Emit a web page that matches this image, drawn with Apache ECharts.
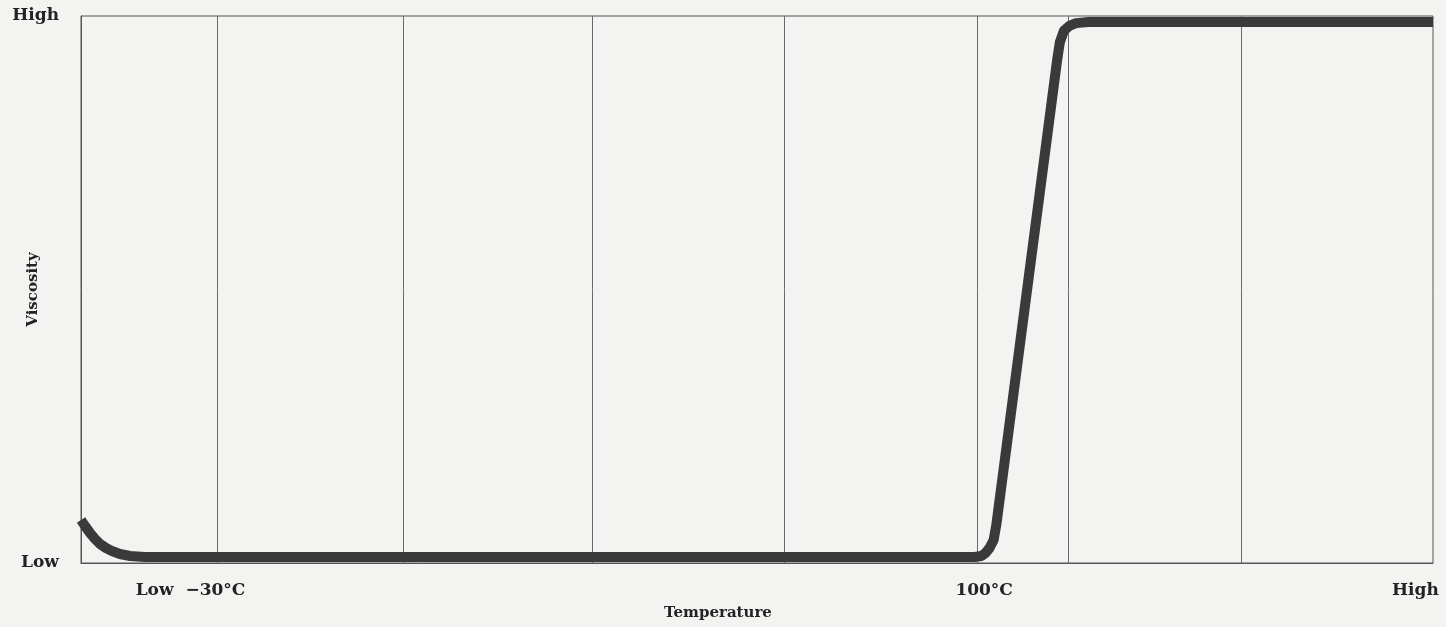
<!DOCTYPE html>
<html>
<head>
<meta charset="utf-8">
<script src="https://cdn.jsdelivr.net/npm/echarts@6/dist/echarts.min.js"></script>
<style>
html,body{margin:0;padding:0;background:#f3f3f1;}
#chart{width:1446px;height:627px;}
</style>
</head>
<body>
<div id="chart"></div>
<script>
// Temperature on an abstract 0..100 scale, viscosity on 0 (Low) .. 100 (High)
const temperature = [0, 0.30, 0.67, 1.04, 1.41, 1.85, 2.29, 2.88, 3.62, 4.73, 30, 55, 66.1, 66.6, 66.9, 67.2, 67.5, 67.7, 72.2, 72.4, 72.7, 73.1, 73.6, 74.5, 90, 100];
const viscosity   = [7.86, 6.76, 5.48, 4.39, 3.47, 2.74, 2.19, 1.65, 1.28, 1.10, 1.10, 1.10, 1.10, 1.28, 1.83, 2.74, 4.20, 6.95, 91.96, 95.2, 97.3, 98.2, 98.7, 98.9, 98.9, 98.9];
const gridlineTemps = [10.1, 23.8, 37.8, 52.0, 66.3, 73.0, 85.8];
const xTickValues = [8.1, 66.8, 98.7];
const xTickLabels = ['Low  \u221230\u00b0C', '100\u00b0C', 'High'];
const yTickValues = [0, 100];
const yTickLabels = ['Low', 'High'];

const font = 'DejaVu Serif';
const txt = '#232323';
const chart = echarts.init(document.getElementById('chart'));
chart.setOption({
  backgroundColor: '#f3f3f1',
  animation: false,
  grid: {left: 81, right: 13, top: 16, bottom: 64, outerBoundsMode: 'none', containLabel: false,
         show: true, borderColor: '#555', borderWidth: 1, backgroundColor: 'transparent'},
  xAxis: {
    type: 'value', min: 0, max: 100,
    name: 'Temperature', nameLocation: 'middle', nameGap: 43, nameMoveOverlap: false,
    nameTextStyle: {fontFamily: font, fontWeight: 'bold', fontSize: 15, color: txt, padding: [0, 78, 0, 0]},
    axisLine: {show: true, lineStyle: {color: '#555', width: 1}},
    axisTick: {show: false},
    splitLine: {show: false},
    axisLabel: {
      customValues: xTickValues,
      margin: 19,
      fontFamily: font, fontWeight: 'bold', fontSize: 17, color: txt,
      formatter: v => { const i = xTickValues.indexOf(v); return i >= 0 ? xTickLabels[i] : ''; }
    }
  },
  yAxis: {
    type: 'value', min: 0, max: 100, interval: 100,
    name: 'Viscosity', nameLocation: 'middle', nameGap: 40, nameRotate: 90, nameMoveOverlap: false,
    nameTextStyle: {fontFamily: font, fontWeight: 'bold', fontSize: 15, color: txt},
    axisLine: {show: true, lineStyle: {color: '#555', width: 1}},
    axisTick: {show: false},
    splitLine: {show: false},
    axisLabel: {
      margin: 22,
      fontFamily: font, fontWeight: 'bold', fontSize: 17, color: txt,
      formatter: v => { const i = yTickValues.indexOf(v); return i >= 0 ? yTickLabels[i] : ''; }
    }
  },
  series: [{
    type: 'line',
    data: temperature.map((t, i) => [t, viscosity[i]]),
    smooth: false,
    showSymbol: false,
    clip: false,
    lineStyle: {color: '#3a3a3a', width: 10, cap: 'butt', join: 'round'},
    markLine: {
      silent: true,
      symbol: 'none',
      label: {show: false},
      lineStyle: {color: '#6a6a6a', width: 1, type: 'solid'},
      z: 1,
      data: gridlineTemps.map(t => ({xAxis: t}))
    },
    z: 3
  }]
});
</script>
</body>
</html>
